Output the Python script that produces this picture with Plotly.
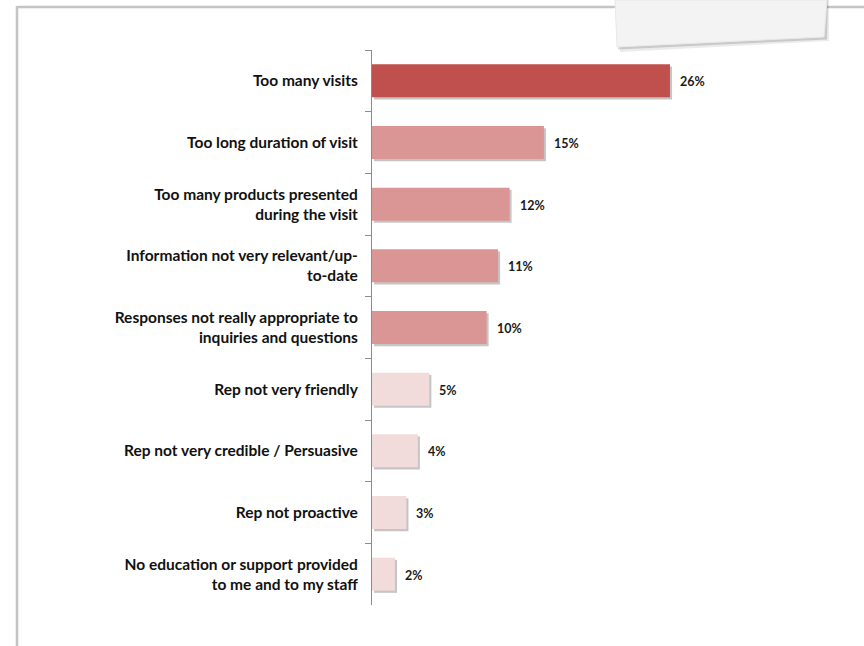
import plotly.graph_objects as go

categories = [
    "Too many visits",
    "Too long duration of visit",
    "Too many products presented<br>during the visit",
    "Information not very relevant/up-<br>to-date",
    "Responses not really appropriate to<br>inquiries and questions",
    "Rep not very friendly",
    "Rep not very credible / Persuasive",
    "Rep not proactive",
    "No education or support provided<br>to me and to my staff",
]
values = [26, 15, 12, 11, 10, 5, 4, 3, 2]
labels = ["26%", "15%", "12%", "11%", "10%", "5%", "4%", "3%", "2%"]
colors = ["#C0504D", "#D99694", "#D99694", "#D99694", "#D99694",
          "#F2DCDB", "#F2DCDB", "#F2DCDB", "#F2DCDB"]

W, H = 864, 646
L, R, T, B = 372, 64, 50, 41
PW, PH = W - L - R, H - T - B
XMAX = PW / 11.46
BW = 0.535


def px(x):
    return (x - L) / PW


def py(y):
    return 1 - (y - T) / PH


fig = go.Figure()
# shadow
fig.add_trace(go.Bar(
    y=categories, x=values, base=0.18, orientation="h",
    width=BW, offset=-BW / 2 + 0.035,
    marker=dict(color="rgba(90,90,90,0.35)", line=dict(width=0)),
    hoverinfo="skip", showlegend=False,
))
fig.add_trace(go.Bar(
    y=categories, x=values, orientation="h",
    width=BW, offset=-BW / 2,
    marker=dict(color=colors, line=dict(width=0)),
    showlegend=False,
))

for c, v, t in zip(categories, values, labels):
    fig.add_annotation(x=v, y=c, text=t, showarrow=False, xanchor="left",
                       xshift=8, yshift=-1,
                       font=dict(family="Lato", size=12.5, color="#1A1A1A", weight="bold"))

shapes = []
# frame lines
shapes.append(dict(type="line", xref="paper", yref="paper",
                   x0=px(17), x1=px(870), y0=py(7), y1=py(7),
                   line=dict(color="#C4C4C4", width=2.5), layer="below"))
shapes.append(dict(type="line", xref="paper", yref="paper",
                   x0=px(17), x1=px(17), y0=py(6), y1=py(650),
                   line=dict(color="#C4C4C4", width=2.5), layer="below"))


def poly(pts):
    s = "M " + " L ".join(f"{px(a):.5f},{py(b):.5f}" for a, b in pts) + " Z"
    return s


# note shadow
shapes.append(dict(type="path", xref="paper", yref="paper",
                   path=poly([(620, 0), (829, 0), (829, 41), (620, 52)]),
                   fillcolor="rgba(0,0,0,0.08)", line=dict(width=0), layer="above"))
shapes.append(dict(type="path", xref="paper", yref="paper",
                   path=poly([(618, 0), (828, 0), (827, 39.5), (618, 49.5)]),
                   fillcolor="rgba(0,0,0,0.14)", line=dict(width=0), layer="above"))
# note
shapes.append(dict(type="path", xref="paper", yref="paper",
                   path=poly([(615, 0), (827, 0), (824, 37), (617, 47)]),
                   fillcolor="#F3F3F3", line=dict(color="#E8E8E8", width=1), layer="above"))

fig.update_layout(
    width=W, height=H,
    margin=dict(l=L, r=R, t=T, b=B),
    paper_bgcolor="white", plot_bgcolor="white",
    barmode="overlay",
    shapes=shapes,
    xaxis=dict(range=[0, XMAX], visible=False, fixedrange=True),
    yaxis=dict(
        type="category", autorange="reversed",
        showline=True, linecolor="#8C8C8C", linewidth=1,
        ticks="outside", ticklen=6, tickcolor="#8C8C8C", tickson="boundaries",
        showgrid=False, ticklabelstandoff=10,
        tickfont=dict(family="Lato", size=15.5, color="#111111", weight="bold"),
    ),
)

fig.write_html("out.html")
